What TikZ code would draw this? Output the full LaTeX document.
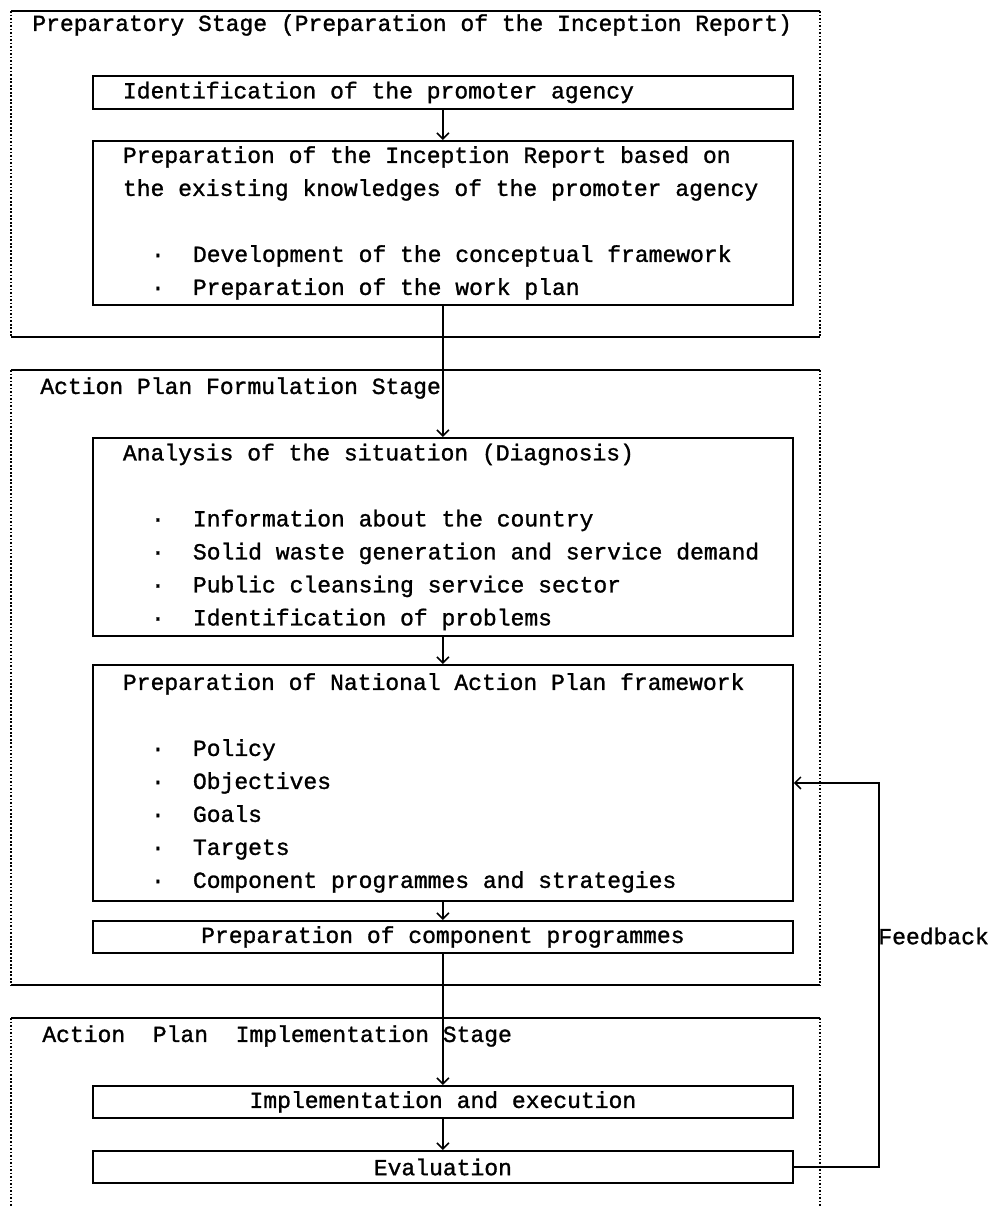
\documentclass[tikz,border=0pt]{standalone}
\usepackage{fontspec}
\newfontfamily\typefont[FakeBold=1.2]{Liberation Mono}
\usetikzlibrary{arrows.meta}
% one bullet line inside a step box
\newcommand\bitem[1]{\hspace*{0.56cm}\makebox[0.84cm][l]{·}#1}

\begin{document}
\begin{tikzpicture}
[x=0.02cm, y=-0.02cm, >={Straight Barb[length=1.2mm,width=2.4mm]},
% STYLES
every node/.style={font=\typefont\fontsize{13.1pt}{18.78pt}\selectfont, inner sep=0pt},
% The stepbox style is used to draw the steps of the plan
stepbox/.style={rectangle, draw, line width=1.1pt, anchor=north west, text width=12.8cm, inner xsep=0.6cm, inner ysep=1pt, align=left,
  execute at begin node={\spaceskip=\fontdimen2\font\relax}},
midbox/.style={stepbox, align=center},
title/.style={anchor=west},
stageline/.style={line width=1.1pt},
stageside/.style={line width=0.9pt, dash pattern=on 1pt off 1pt},
link/.style={->, line width=0.9pt}]

\useasboundingbox (0,0) rectangle (994,1207);

% Draw stages
\draw[stageline] (11,11) -- (820,11) (11,337) -- (820,337);
\draw[stageside] (11,11) -- (11,337) (820,11) -- (820,337);
\draw[stageline] (11,370) -- (820,370) (11,985) -- (820,985);
\draw[stageside] (11,370) -- (11,985) (820,370) -- (820,985);
\draw[stageline] (11,1018) -- (820,1018);
\draw[stageside] (11,1018) -- (11,1207) (820,1018) -- (820,1207);

\node[title] (prep) at (32,25) {Preparatory Stage (Preparation of the Inception Report)};
\node[title] (form) at (40,388) {Action Plan Formulation Stage};
\node[title] (impst) at (42,1036) {Action\ \ Plan\ \ Implementation\ Stage};

% Draw steps
\node[stepbox, minimum height=0.66cm] (ident) at (92,75) {Identification of the promoter agency};
\node[stepbox, minimum height=3.28cm] (incep) at (92,140) {Preparation of the Inception Report based on\\
the existing knowledges of the promoter agency\\[0.66cm]
\bitem{Development of the conceptual framework}\\
\bitem{Preparation of the work plan}};
\node[stepbox, minimum height=3.96cm] (anal) at (92,437) {Analysis of the situation (Diagnosis)\\[0.66cm]
\bitem{Information about the country}\\
\bitem{Solid waste generation and service demand}\\
\bitem{Public cleansing service sector}\\
\bitem{Identification of problems}};
\node[stepbox, minimum height=4.72cm] (nap) at (92,664) {Preparation of National Action Plan framework\\[0.66cm]
\bitem{Policy}\\
\bitem{Objectives}\\
\bitem{Goals}\\
\bitem{Targets}\\
\bitem{Component programmes and strategies}};
\node[midbox, minimum height=0.64cm] (comp) at (92,920) {Preparation of component programmes};
\node[midbox, minimum height=0.64cm] (impl) at (92,1085) {Implementation and execution};
\node[midbox, minimum height=0.64cm] (eval) at (92,1150) {Evaluation};

% Draw links
\draw[link] (ident) -- (incep);
\draw[link] (incep) -- (anal);
\draw[link] (anal) -- (nap);
\draw[link] (nap) -- (comp);
\draw[link] (comp) -- (impl);
\draw[link] (impl) -- (eval);
\draw[link] (eval.east) -- ++(85,0) |- (nap.east);
\node[anchor=west] (fb) at (878,936) {Feedback};

\end{tikzpicture}
\end{document}
